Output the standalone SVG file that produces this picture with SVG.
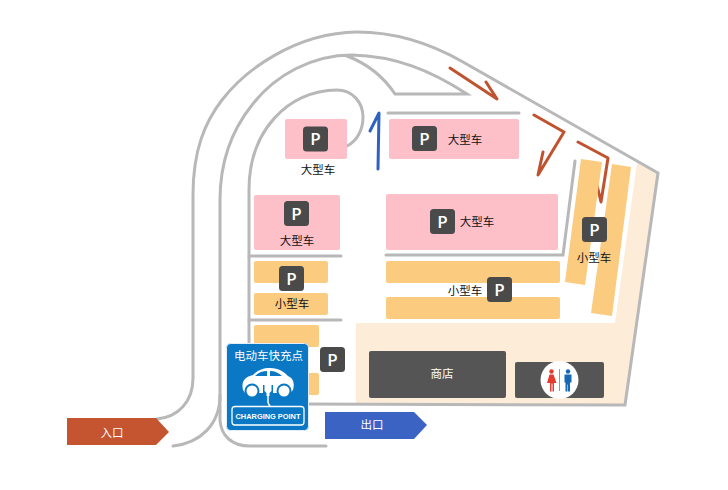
<svg xmlns="http://www.w3.org/2000/svg" width="728" height="490" viewBox="0 0 728 490">
<style>
text{font-family:"Liberation Sans","Noto Sans CJK SC",sans-serif;font-size:11.5px;fill:#111;text-anchor:middle}
.w{fill:#fff}
.road{fill:none;stroke:#b8b8b8;stroke-width:3;stroke-linecap:round;stroke-linejoin:miter}
.red{fill:none;stroke:#c0532f;stroke-width:3;stroke-linecap:round;stroke-linejoin:round}
.blue{fill:none;stroke:#2f62c0;stroke-width:3;stroke-linecap:round;stroke-linejoin:round}
.pink{fill:#fdc0c8}
.or{fill:#fbcb80}
.pb{fill:#4a4a4a}
.pt{fill:#fff;font-family:"Open Sans",sans-serif;font-weight:600;font-size:17px}
</style>
<defs>
<g id="pk"><rect class="pb" width="25" height="25" rx="3.5"/><text class="pt" x="12.5" y="18.5">P</text></g>
</defs>
<g id="plaza"><polygon fill="#fcecd8" points="637,163 658,172 625,404 356,404 356,323 615,323"/></g>
<g id="connectors">
<path class="road" d="M157,419C178,417 193,402 193,378L193,195C193,150 205,122 222,100C245,70 295,33 357,32C395,32 430,43 463,62L658,173L625,405L300,404"/>
<path class="road" d="M220,400L220,200C220,160 232,130 252,105C275,75 312,55 352,55C395,56 430,70 467,94L395,94C383,76 368,64 347,56"/>
<path class="road" d="M220,400L220,420C221,436 232,446 250,446L326,446"/>
<path class="road" d="M173,446C200,443 220,425 220,395"/>
<path class="road" d="M249,345L249,190C249,130 288,91 337,90C352,90 363,102 363,117C363,130 357,141 347,146"/>
<path class="road" d="M249,256L341,256M249,320L341,320M388,113L519,113M575,161L563,255L386,255"/>
<path class="red" d="M450,68L497,99L486,82M534,115L564,132L538,175L543,152M578,142L608,158L601,202L596,181"/>
<path class="blue" d="M370,131L379,113L378,169"/>
</g>
<g id="lot-a1"><rect class="pink" x="285" y="119" width="62" height="40" rx="2"/><use href="#pk" x="303" y="126.500"/><text x="318" y="174">大型车</text></g>
<g id="lot-a2"><rect class="pink" x="389" y="119" width="130" height="40" rx="2"/><use href="#pk" x="412" y="126"/><text x="465" y="144">大型车</text></g>
<g id="lot-a3"><rect class="pink" x="254" y="195" width="86" height="55" rx="2"/><use href="#pk" x="284" y="201"/><text x="297" y="245">大型车</text></g>
<g id="lot-a4"><rect class="pink" x="386" y="194" width="172" height="56" rx="2"/><use href="#pk" x="430" y="209"/><text x="477" y="226">大型车</text></g>
<g id="lot-b1"><rect class="or" x="254" y="261" width="74" height="22" rx="2"/><rect class="or" x="254" y="293" width="74" height="22" rx="2"/><use href="#pk" x="279" y="266"/><text x="292" y="308">小型车</text></g>
<g id="lot-b2"><rect class="or" x="386" y="261" width="174" height="22" rx="2"/><rect class="or" x="386" y="297" width="174" height="22" rx="2"/><text x="465" y="295">小型车</text><use href="#pk" x="487" y="277"/></g>
<g id="lot-b3"><rect class="or" x="254" y="325" width="65" height="22" rx="2"/><rect class="or" x="295" y="373" width="24" height="22" rx="2"/><use href="#pk" x="320" y="347"/></g>
<g id="lot-b4"><polygon class="or" points="581,159 602,162 585,285 565,282"/><polygon class="or" points="612,164 631,167 612,316 591,313"/><use href="#pk" x="582" y="217"/><text x="594" y="262">小型车</text></g>
<g id="shop"><rect x="369" y="351" width="137" height="47" rx="2" fill="#555"/><text class="w" x="442" y="378">商店</text></g>
<g id="toilet"><rect x="515" y="362" width="89" height="36" rx="2" fill="#555"/><circle cx="559.500" cy="380" r="19" fill="#fff"/>
<rect x="559" y="369" width="1" height="22" fill="#999"/>
<g fill="#e53b2e"><circle cx="551.500" cy="371.500" r="2.200"/><path d="M549.500,374.500h4l3,8.500h-2.500v8.500h-1.500v-8h-1v8h-1.500v-8.500h-3z"/></g>
<g fill="#1668b4"><circle cx="568" cy="371.500" r="2.200"/><path d="M564.500,374.500h7v8h-1.500v9h-2v-7h-.5v7h-2v-9h-1z"/></g></g>
<g id="entry"><polygon fill="#c45530" points="67,418 156,418 169,432 156,445 67,445"/><text class="w" x="112" y="437">入口</text></g>
<g id="exit"><polygon fill="#3a63c4" points="325,412 414,412 427,425 414,439 325,439"/><text class="w" x="372" y="429">出口</text></g>
<g id="charging">
<rect x="226.500" y="343.500" width="82" height="87" rx="4" fill="#0a78c4" stroke="#e4eef6" stroke-width="1"/>
<text class="w" x="268.500" y="359.500">电动车快充点</text>
<path fill="#fff" d="M243,390C241,381 245,377 253,375C258,370 263,368 270,368C279,368 284,372 288,376C293,378 295,383 293,390L290,393L245,393Z"/>
<path fill="#0a78c4" d="M255,376C259,372 263,371 267,371L267,376ZM270,371C275,371 279,373 282,376L270,376Z"/>
<circle cx="252" cy="391" r="7.500" fill="#0a78c4"/><circle cx="284" cy="391" r="7.500" fill="#0a78c4"/>
<circle cx="252" cy="391" r="5.500" fill="#fff"/><circle cx="284" cy="391" r="5.500" fill="#fff"/>
<path d="M263,393h10v-8h-10z" fill="#0a78c4"/>
<path d="M264.500,385h7v6l-2,2v3h-3v-3l-2,-2z" fill="#fff"/>
<path d="M266,381v4M270,381v4" stroke="#fff" stroke-width="1.300"/>
<path d="M268,396V402C268,404 270,405 270,407" fill="none" stroke="#fff" stroke-width="1.500"/>
<rect x="232" y="406.500" width="72" height="18.500" rx="3" fill="none" stroke="#fff" stroke-width="1.300"/>
<text class="w" x="268" y="419" style="font-size:7.500px;font-weight:bold" textLength="65" lengthAdjust="spacingAndGlyphs">CHARGING POINT</text>
</g>
</svg>
